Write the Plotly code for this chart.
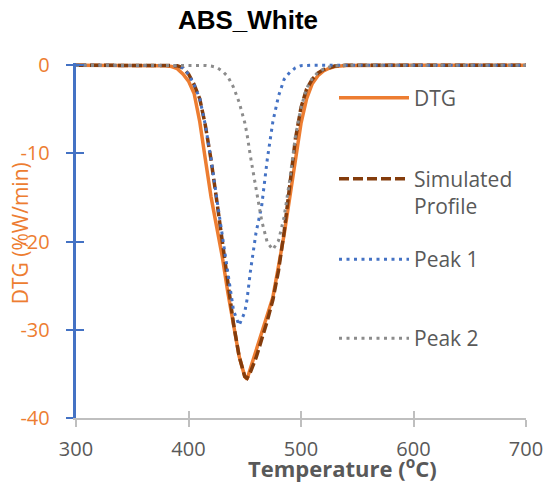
import plotly.graph_objects as go

# Measured DTG curve (temperature in degC, rate in %W/min)
T_DTG = [300, 320, 340, 360, 380, 385, 390, 395, 400, 405,
         410, 415, 420, 425, 430, 435, 440, 445, 450, 452,
         455, 460, 465, 470, 475, 480, 485, 490, 495, 500,
         505, 510, 515, 520, 525, 530, 540, 560, 600, 650, 700]
DTG = [0, 0, 0, 0, -0.05, -0.15, -0.4, -1.0, -1.8, -3.2,
       -6.4, -10.7, -14.9, -18.3, -21.7, -25.8, -29.6, -33.0, -35.3, -35.6,
       -34.4, -32.4, -30.3, -28.5, -26.3, -22.8, -19.2, -15.0, -10.8, -6.6,
       -3.8, -2.1, -1.2, -0.65, -0.35, -0.15, -0.03, 0, 0, 0, 0]

# Deconvolution: fitted profile and its two component peaks
T_FIT = [300, 320, 340, 360, 380, 390, 395, 400, 405, 410,
         415, 420, 425, 430, 435, 440, 445, 450, 452, 455,
         460, 465, 470, 475, 480, 485, 490, 495, 500, 505,
         510, 515, 520, 525, 530, 540, 560, 600, 650, 700]
SIMULATED = [0, 0, 0, 0, 0, -0.05, -0.3, -1.0, -2.2, -3.8,
             -6.85, -10.7, -15.25, -20.0, -24.7, -29.3, -33.0, -35.3, -35.5, -34.8,
             -33.2, -31.2, -29.0, -26.6, -23.3, -18.9, -13.8, -8.4, -4.8, -2.7,
             -1.6, -0.9, -0.5, -0.25, -0.1, 0, 0, 0, 0, 0]
PEAK_1 = [0, 0, 0, 0, 0, -0.05, -0.3, -1.0, -2.2, -3.8,
          -6.8, -10.6, -15.0, -19.4, -23.6, -27.8, -29.5, -28.0, -26.6, -23.4,
          -19.0, -16.0, -10.7, -6.4, -3.5, -1.6, -0.8, -0.3, -0.05, 0,
          0, 0, 0, 0, 0, 0, 0, 0, 0, 0]
PEAK_2 = [0, 0, 0, 0, 0, 0, 0, 0, 0, 0,
          -0.03, -0.1, -0.25, -0.65, -1.3, -2.5, -4.2, -6.5, -7.8, -10.3,
          -14.2, -17.6, -20.1, -20.9, -19.9, -17.2, -13.0, -8.1, -4.8, -2.6,
          -1.5, -0.8, -0.45, -0.2, -0.08, 0, 0, 0, 0, 0]

X_TICKS = [300, 400, 500, 600, 700]
Y_TICKS = [0, -10, -20, -30, -40]
Y_TICK_TEXT = ["0", "-10", "-20", "-30", "-40"]

ORANGE = "#ED7D31"
BROWN = "#843C0C"
BLUE = "#4472C4"
GREY = "#8C8C8C"
TEXT = "#595959"
AXIS_GREY = "#BFBFBF"
FONT = "Open Sans"

W, H = 549, 486
L, R, T, B = 76, 23, 62.8, 68.3
PLOT_W = W - L - R
PLOT_H = H - T - B

fig = go.Figure()
fig.add_trace(go.Scatter(x=T_DTG, y=DTG, mode="lines", name="DTG",
                         line=dict(color=ORANGE, width=3.5), legend="legend"))
fig.add_trace(go.Scatter(x=T_FIT, y=SIMULATED, mode="lines", name="Simulated<br>Profile",
                         line=dict(color=BROWN, width=3.5, dash="10px,4px"), legend="legend2"))
fig.add_trace(go.Scatter(x=T_FIT, y=PEAK_1, mode="lines", name="Peak 1",
                         line=dict(color=BLUE, width=3, dash="3px,4.5px"), legend="legend3"))
fig.add_trace(go.Scatter(x=T_FIT, y=PEAK_2, mode="lines", name="Peak 2",
                         line=dict(color=GREY, width=3, dash="3px,4.5px"), legend="legend4"))
# empty trace so the overlay axes (inner tick halves) get drawn
fig.add_trace(go.Scatter(x=[None], y=[None], xaxis="x2", yaxis="y2", mode="lines",
                         showlegend=False, hoverinfo="skip"))


def legend_box(px_y):
    return dict(xref="container", yref="container", x=334 / W, y=1 - px_y / H,
                xanchor="left", yanchor="middle", bgcolor="rgba(0,0,0,0)",
                font=dict(family=FONT, size=21, color=TEXT), itemwidth=70,
                valign="top", borderwidth=0)


axis_common = dict(showgrid=False, zeroline=False)

fig.update_layout(
    width=W, height=H,
    margin=dict(l=L, r=R, t=T, b=B, autoexpand=False),
    paper_bgcolor="white", plot_bgcolor="white",
    title=dict(text="<b>ABS_White</b>", x=248 / W, xref="container", xanchor="center",
               y=1 - 20 / H, yref="container", yanchor="middle",
               font=dict(family="Liberation Sans, Arial", size=26, color="black")),
    showlegend=True,
    legend=legend_box(98),
    legend2=legend_box(192.5),
    legend3=legend_box(259.5),
    legend4=legend_box(338.5),
    xaxis=dict(range=[300, 700], tickvals=X_TICKS, ticks="outside", ticklen=7,
               tickwidth=2, tickcolor=AXIS_GREY, showline=True, linecolor=AXIS_GREY,
               linewidth=2, tickfont=dict(family=FONT, size=20, color=TEXT),
               ticklabelstandoff=5, **axis_common),
    yaxis=dict(range=[-40, 0.25], tickvals=Y_TICKS, ticktext=Y_TICK_TEXT, ticks="outside",
               ticklen=7.5, tickwidth=2, tickcolor=BLUE, showline=True, linecolor=BLUE,
               linewidth=2.5, tickfont=dict(family=FONT, size=20, color=ORANGE),
               ticklabelstandoff=12, **axis_common),
    # second pair of axes carries the inner half of the crossing tick marks
    xaxis2=dict(overlaying="x", anchor="y2", side="bottom", range=[300, 700],
                tickvals=X_TICKS, ticks="inside", ticklen=7, tickwidth=2,
                tickcolor=AXIS_GREY, showticklabels=False, showline=False, **axis_common),
    yaxis2=dict(overlaying="y", anchor="x2", side="left", range=[-40, 0.25],
                tickvals=Y_TICKS, ticks="inside", ticklen=7.5, tickwidth=2,
                tickcolor=BLUE, showticklabels=False, showline=False, **axis_common),
    annotations=[
        dict(text="DTG (%W/min)", xref="paper", yref="paper",
             x=(20 - L) / PLOT_W, y=(H - B - 233) / PLOT_H, textangle=-90,
             xanchor="center", yanchor="middle", showarrow=False,
             font=dict(family=FONT, size=21, color=ORANGE)),
        dict(text="<b>Temperature (<sup>o</sup>C)</b>", xref="paper", yref="paper",
             x=(342 - L) / PLOT_W, y=(H - B - 467) / PLOT_H,
             xanchor="center", yanchor="middle", showarrow=False,
             font=dict(family=FONT, size=22, color=TEXT)),
    ],
)

fig.write_html("out.html")
